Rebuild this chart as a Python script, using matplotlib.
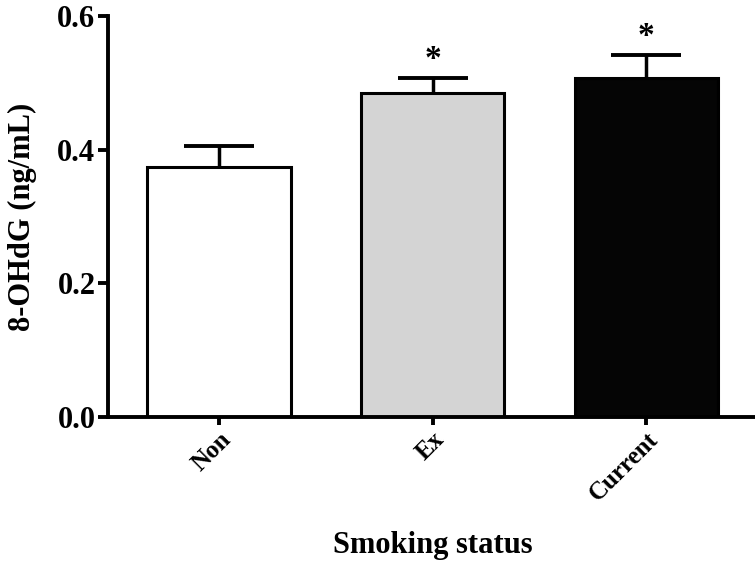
import matplotlib.pyplot as plt

groups = ["Non", "Ex", "Current"]
means = [0.374, 0.485, 0.507]
errors = [0.032, 0.022, 0.035]
colors = ["white", "#d4d4d4", "#050505"]
marks = ["", "*", "*"]

plt.rcParams["font.family"] = ["Liberation Serif", "DejaVu Serif"]
plt.rcParams["font.weight"] = "bold"

fig = plt.figure(figsize=(7.55, 5.72), dpi=100)
ax = fig.add_axes([0.143, 0.271, 0.86, 0.701])

x = list(range(len(groups)))
ax.bar(x, means, width=0.67, color=colors, edgecolor="black", linewidth=2.2, zorder=2)
_, caps, _ = ax.errorbar(x, means, yerr=[[0] * len(errors), errors], fmt="none",
                         ecolor="black", elinewidth=2.5, capsize=25, capthick=2.8,
                         zorder=1)
caps[0].set_visible(False)  # only the upper cap

for xi, m, e, s in zip(x, means, errors, marks):
    if s:
        ax.text(xi, m + e + 0.004, s, ha="center", va="bottom", fontsize=24, fontweight="bold")

ax.set_xlim(-0.52, 2.52)
ax.set_ylim(0, 0.6)
ax.set_yticks([0.0, 0.2, 0.4, 0.6])
ax.set_yticklabels(["0.0", "0.2", "0.4", "0.6"], fontsize=22, fontweight="bold")
ax.set_xticks(x)
ax.set_xticklabels(groups, fontsize=18, fontweight="bold", rotation=45,
                   ha="right", va="top", rotation_mode="anchor")

for side in ["top", "right"]:
    ax.spines[side].set_visible(False)
for side in ["left", "bottom"]:
    ax.spines[side].set_linewidth(2.8)
ax.tick_params(axis="y", length=7, width=2.8, pad=2)
ax.tick_params(axis="x", length=6, width=2.8, pad=2)

ax.set_ylabel("8-OHdG (ng/mL)", fontsize=22, fontweight="bold")
ax.yaxis.set_label_coords(-0.11, 0.5)
ax.set_xlabel("Smoking status", fontsize=22, fontweight="bold", va="center")
ax.xaxis.set_label_coords(0.5, -0.32)

fig.savefig("out.png", dpi=100)
